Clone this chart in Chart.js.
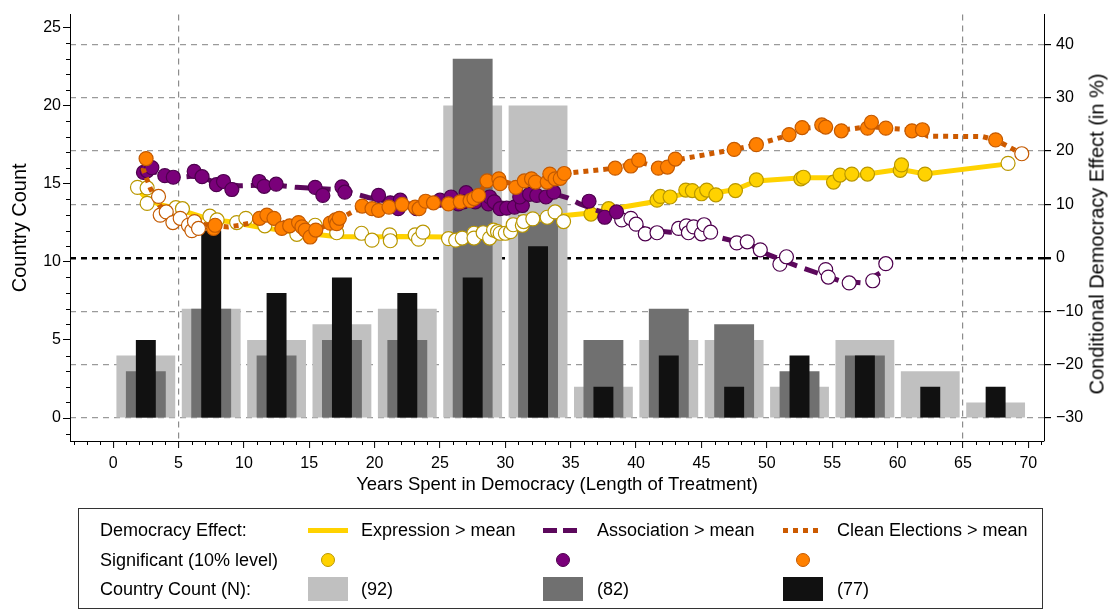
<!DOCTYPE html>
<html><head><meta charset="utf-8">
<script src="https://cdn.jsdelivr.net/npm/chart.js@4"></script>
<style>
html,body{margin:0;padding:0;background:#fff;}
#wrap{position:relative;width:1115px;height:610px;font-family:"Liberation Sans",Arial,sans-serif;color:#000;overflow:hidden;}
#c{position:absolute;left:0;top:0;}
#rtitle{position:absolute;left:1097px;top:234px;transform:translate(-50%,-50%) rotate(-90deg);white-space:nowrap;font-size:20px;}
#legend{position:absolute;left:78px;top:508px;width:965px;height:101px;border:1px solid #333;box-sizing:border-box;}
.t{position:absolute;font-size:18px;white-space:nowrap;line-height:20px;transform:translateY(-50%);}
.sw{position:absolute;}
</style></head>
<body><div id="wrap">
<canvas id="c" width="1115" height="610"></canvas>
<div id="rtitle">Conditional Democracy Effect (in %)</div>
<div id="legend"></div>
<div id="lg"></div>
</div>
<script>
// ---------- data ----------
const binCenters = [2.5,7.5,12.5,17.5,22.5,27.5,32.5,37.5,42.5,47.5,52.5,57.5,62.5,67.5];
const countN92 = [4,7,5,6,7,20,20,2,5,5,2,5,3,1];
const countN82 = [3,7,4,5,5,23,13,5,7,6,3,4,0,0];
const countN77 = [5,12,8,9,8,9,11,2,4,2,4,4,2,2];

const xTickValues = [0,5,10,15,20,25,30,35,40,45,50,55,60,65,70];
const leftTickValues = [0,5,10,15,20,25];
const rightTickValues = [-30,-20,-10,0,10,20,30,40];

const expressionLine = [[1.9,12.8],[2.4,11.5],[3.5,10.0],[4.6,9.4],[5.6,8.6],[7.4,7.2],[8.8,6.8],[11,5.8],[14,4.8],[17,4.0],[19.5,3.9],[22,4.0],[25.5,3.9],[27.5,4.1],[29.6,5.0],[31,6.2],[32.2,7.1],[34,7.8],[36.5,8.4],[38,9.1],[41.6,10.6],[42.6,11.4],[44.3,12.3],[46.1,12.2],[47.6,12.8],[49.2,14.4],[52.7,15.0],[55.4,15.0],[57.7,15.7],[60.2,16.6],[62.1,15.7],[68.45,17.6]];
const expressionSig = [[36.55,8.2],[37.9,9.2],[41.6,10.8],[41.85,11.5],[42.6,11.4],[43.8,12.7],[44.3,12.6],[45.0,12.0],[45.4,12.7],[46.1,11.8],[47.6,12.6],[49.2,14.6],[52.6,14.8],[52.8,15.1],[55.1,14.2],[55.6,15.5],[56.5,15.7],[57.7,15.7],[60.2,16.4],[60.3,17.4],[62.1,15.7]];
const expressionNotSig = [[1.86,13.2],[2.6,13.1],[2.6,10.2],[4.8,9.4],[5.3,9.2],[7.4,7.8],[7.95,7.1],[9.45,6.6],[10.15,7.4],[11.6,6.0],[14.05,4.4],[15.45,6.1],[17.1,4.7],[19.0,4.6],[19.8,3.3],[21.15,4.3],[21.2,3.2],[23.1,4.3],[23.36,3.5],[23.7,4.8],[25.65,3.6],[26.2,3.3],[26.7,3.7],[27.6,4.6],[27.6,3.7],[28.3,4.7],[28.8,3.7],[29.1,5.2],[29.4,4.9],[29.6,4.6],[30.0,4.6],[30.4,4.9],[30.6,6.2],[31.3,6.1],[31.4,6.8],[32.1,7.3],[33.2,7.6],[33.8,8.6],[34.45,6.8],[68.45,17.7]];

const associationLine = [[2.3,16.3],[3,16.2],[4,15.5],[5.3,15.1],[6.5,15.4],[7.9,14.0],[9.6,13.5],[11,13.6],[12.5,13.6],[14,13.2],[15.5,13.0],[17.5,12.7],[19.5,11.3],[21,10.6],[23,10.0],[25,10.5],[27,11.0],[29,10.5],[30.5,10.0],[32,11.0],[33.7,12.0],[34.7,11.3],[35.7,10.1],[37.0,8.9],[38.0,8.0],[39.5,7.0],[40.7,5.3],[42.6,4.8],[44.5,5.2],[45.9,4.1],[47.7,3.0],[48.8,2.4],[50.1,0.6],[52.3,-1.5],[53.8,-2.8],[55.6,-4.3],[57.3,-4.7],[58.7,-2.8],[59.1,-1.1]];
const associationSig = [[2.32,16.0],[2.6,16.3],[2.96,16.9],[3.95,15.4],[4.6,15.1],[6.2,16.2],[6.8,15.2],[7.9,13.7],[8.44,14.3],[9.08,12.8],[11.17,14.3],[11.55,13.4],[12.47,13.8],[15.45,13.2],[16.04,11.7],[17.5,13.3],[17.72,12.3],[20.3,11.7],[21.2,10.3],[21.96,10.8],[21.8,9.2],[23.2,9.2],[25.0,10.8],[25.85,11.4],[26.4,10.1],[27.0,12.2],[26.8,10.5],[27.7,10.5],[28.7,10.1],[28.8,11.4],[29.15,10.5],[29.6,9.2],[30.1,9.3],[30.7,9.5],[31.3,9.8],[31.1,11.4],[31.85,11.9],[32.4,11.7],[33.1,11.4],[33.7,12.3],[36.4,10.6],[37.6,7.6],[38.5,8.6]];
const associationNotSig = [[38.9,7.1],[39.6,7.4],[40.0,6.3],[40.7,4.5],[41.6,4.7],[43.25,5.5],[43.85,6.0],[44.0,4.7],[44.4,5.8],[45.0,4.5],[45.2,6.2],[45.7,4.8],[47.7,2.8],[48.5,3.0],[49.5,1.5],[51.0,-1.2],[51.5,0.2],[54.5,-2.2],[54.7,-3.6],[56.3,-4.7],[58.1,-4.3],[59.1,-1.1]];

const electionsLine = [[2.5,18.6],[2.3,16.6],[2.85,13.0],[3.55,9.8],[4.5,8.0],[6,6.5],[8.8,5.8],[9.7,6.1],[10.4,6.5],[11.5,7.4],[12.5,7.0],[13.5,6.2],[14.8,5.0],[15.5,5.2],[16.8,6.6],[17.3,7.3],[18.3,8.6],[19.2,9.6],[20.5,9.3],[22,9.8],[24,10.2],[26,10.3],[27.7,11.2],[28.6,14.2],[29.5,14.6],[30.8,13.6],[32,14.6],[33.5,15.2],[34.5,15.8],[38.4,16.8],[40.2,18.0],[41.7,16.9],[43,18.3],[47.5,20.3],[49.2,21.2],[51.7,23.0],[52.7,24.2],[54.3,24.6],[55.7,23.9],[57.8,24.6],[59.1,24.3],[61.5,23.9],[62.3,22.8],[66.5,22.7],[67.5,22.1],[69.5,19.5]];
const electionsSig = [[2.52,18.6],[7.68,5.5],[7.8,6.1],[11.2,7.4],[11.76,8.0],[12.3,7.4],[12.9,5.5],[13.5,6.0],[14.18,6.6],[14.44,5.8],[14.69,5.2],[15.07,3.9],[15.5,5.2],[16.6,6.5],[17.0,7.1],[17.1,6.4],[17.3,7.4],[19.05,9.7],[19.8,9.2],[20.3,8.9],[21.1,9.5],[22.1,10.0],[23.1,9.5],[23.4,9.2],[23.9,10.6],[24.5,10.3],[25.65,10.1],[26.55,10.5],[27.3,10.7],[27.6,11.1],[27.95,11.7],[28.6,14.4],[29.5,14.8],[29.6,13.9],[30.8,13.2],[31.45,14.4],[32.0,14.8],[32.3,14.2],[33.2,14.2],[33.4,15.7],[33.8,14.8],[34.2,14.9],[34.5,15.8],[38.4,16.8],[39.6,17.2],[40.2,18.3],[41.7,16.8],[42.4,17.0],[43.0,18.5],[47.5,20.3],[49.2,21.2],[51.7,23.1],[52.7,24.4],[54.2,24.9],[54.5,24.5],[55.7,23.8],[57.7,24.3],[58.0,25.4],[59.1,24.3],[61.1,23.8],[61.9,24.0],[67.5,22.1]];
const electionsNotSig = [[3.47,11.5],[3.6,8.0],[4.06,8.6],[4.57,6.6],[5.13,7.4],[5.76,6.1],[6.02,5.1],[6.22,6.8],[6.53,5.5],[69.5,19.5]];

// ---------- styles ----------
const C = {
  light:'#c0c0c0', mid:'#707070', dark:'#111111',
  yLine:'#ffd200', yFill:'#ffd200', yEdge:'#b99700',
  pLine:'#5c085c', pFill:'#7a007a', pEdge:'#4e004e',
  oLine:'#cc5a00', oFill:'#ff8000', oEdge:'#c45a00'
};
const FONT = "'Liberation Sans', Arial, sans-serif";
Chart.defaults.font.family = FONT;
Chart.defaults.color = '#000';

const pts = a => a.map(p => ({x:p[0], y:p[1]}));
const bars = v => binCenters.map((x,i) => ({x, y:v[i]}));

function lineDS(data, color, dash, order){
  return {type:'line', data:pts(data), yAxisID:'yR', borderColor:color, borderWidth:5,
    borderDash:dash, borderCapStyle:'butt', pointRadius:0, fill:false, tension:0, order};
}
function markDS(data, fill, edge, order){
  return {type:'scatter', data:pts(data), yAxisID:'yR', showLine:false,
    pointRadius:7, pointBackgroundColor:fill, pointBorderColor:edge, pointBorderWidth:1.2, order};
}
function barDS(vals, color, pct, order){
  return {type:'bar', data:bars(vals), yAxisID:'yL', backgroundColor:color, borderWidth:0,
    grouped:false, categoryPercentage:1, barPercentage:pct, order};
}

const minorTicks = {
  id:'minorTicks',
  afterDraw(chart){
    const ctx = chart.ctx, x = chart.scales.x, yl = chart.scales.yL;
    ctx.save(); ctx.strokeStyle='#000'; ctx.lineWidth=1;
    for (let v = Math.ceil(x.min); v <= x.max; v++){
      if (v % 5 === 0) continue;
      const px = Math.round(x.getPixelForValue(v)) + 0.5;
      ctx.beginPath(); ctx.moveTo(px, x.top); ctx.lineTo(px, x.top + 4); ctx.stroke();
    }
    for (let v = Math.ceil(yl.min); v <= yl.max; v++){
      if (v % 5 === 0) continue;
      const py = Math.round(yl.getPixelForValue(v)) + 0.5;
      ctx.beginPath(); ctx.moveTo(yl.right - 4, py); ctx.lineTo(yl.right, py); ctx.stroke();
    }
    ctx.restore();
  }
};

const fixTicks = vals => scale => { scale.ticks = vals.map(v => ({value:v})); };
const minus = v => v < 0 ? '\u2212' + Math.abs(v) : String(v);

new Chart(document.getElementById('c'), {
  type:'line',
  data:{datasets:[
    barDS(countN92, C.light, 0.90, 100),
    barDS(countN82, C.mid, 0.61, 99),
    barDS(countN77, C.dark, 0.305, 98),
    lineDS(expressionLine, C.yLine, [], 32),
    markDS(expressionNotSig, '#ffffff', C.yEdge, 31),
    markDS(expressionSig, C.yFill, C.yEdge, 30),
    lineDS(associationLine, C.pLine, [14,8], 22),
    markDS(associationNotSig, '#ffffff', C.pEdge, 21),
    markDS(associationSig, C.pFill, C.pEdge, 20),
    lineDS(electionsLine, C.oLine, [5,5], 12),
    markDS(electionsNotSig, '#ffffff', C.oEdge, 11),
    markDS(electionsSig, C.oFill, C.oEdge, 10)
  ]},
  options:{
    responsive:false, animation:false, devicePixelRatio:1,
    layout:{padding:{left:0,right:0,top:8,bottom:114}},
    plugins:{legend:{display:false}, tooltip:{enabled:false}},
    events:[],
    scales:{
      x:{type:'linear', position:'bottom', min:-3.3, max:71.2, offset:false,
        afterBuildTicks:fixTicks(xTickValues),
        afterFit:s=>{s.height=55;},
        ticks:{font:{size:16}, padding:6, maxRotation:0, autoSkip:false, callback:v=>minus(v)},
        grid:{offset:false, drawOnChartArea:true, drawTicks:true, tickLength:7, tickColor:'#000', tickWidth:1,
          color:c => (c.tick && (c.tick.value===5 || c.tick.value===65)) ? '#8c8c8c' : 'rgba(0,0,0,0)', lineWidth:1.2},
        border:{display:true, color:'#000', width:1, dash:[6,5]},
        title:{display:true, text:'Years Spent in Democracy (Length of Treatment)', font:{size:18.5}, padding:{top:0,bottom:0}}
      },
      yL:{type:'linear', position:'left', min:-1.468, max:25.82,
        afterBuildTicks:fixTicks(leftTickValues),
        afterFit:s=>{s.width=70;},
        ticks:{font:{size:16}, padding:2},
        grid:{drawOnChartArea:false, drawTicks:true, tickLength:7, tickColor:'#000'},
        border:{display:true, color:'#000', width:1},
        title:{display:true, text:'Country Count', font:{size:20}, padding:{top:8,bottom:0}}
      },
      yR:{type:'linear', position:'right', min:-34.32, max:45.57,
        afterBuildTicks:fixTicks(rightTickValues),
        afterFit:s=>{s.width=71;},
        ticks:{font:{size:16}, padding:5, callback:v=>minus(v)},
        grid:{drawOnChartArea:true, drawTicks:true, tickLength:7, tickColor:'#000',
          color:c => (c.tick && c.tick.value===0) ? '#000' : '#9a9a9a',
          lineWidth:c => (c.tick && c.tick.value===0) ? 2.4 : 1.2},
        border:{display:true, color:'#000', width:1, dash:[6,5]}
      }
    }
  },
  plugins:[minorTicks]
});

// ---------- legend (HTML) ----------
const lg = document.getElementById('lg');
function add(html){ lg.insertAdjacentHTML('beforeend', html); }
function text(s, x, y){ add(`<div class="t" style="left:${x}px;top:${y}px">${s}</div>`); }
function sw(x, y, w, h, css){ add(`<div class="sw" style="left:${x}px;top:${y}px;width:${w}px;height:${h}px;${css}"></div>`); }
const rows = [530, 560, 589];
const cols = [308, 543, 783];
const txtX = [361, 597, 837];
text('Democracy Effect:', 100, rows[0]);
text('Significant (10% level)', 100, rows[1]);
text('Country Count (N):', 100, rows[2]);
sw(cols[0], rows[0]-2.5, 40, 5, `background:${C.yLine}`);
sw(cols[1], rows[0]-2.5, 40, 5, `background:repeating-linear-gradient(90deg, ${C.pLine} 0 14px, transparent 14px 20px)`);
sw(cols[2], rows[0]-2.5, 40, 5, `background:repeating-linear-gradient(90deg, ${C.oLine} 0 5px, transparent 5px 10px)`);
text('Expression &gt; mean', txtX[0], rows[0]);
text('Association &gt; mean', txtX[1], rows[0]);
text('Clean Elections &gt; mean', txtX[2], rows[0]);
const mk = [[C.yFill,C.yEdge],[C.pFill,C.pEdge],[C.oFill,C.oEdge]];
mk.forEach((m,i) => sw(cols[i]+20-7, rows[1]-7, 14, 14, `box-sizing:border-box;border-radius:50%;background:${m[0]};border:1.2px solid ${m[1]}`));
[C.light, C.mid, C.dark].forEach((c,i) => sw(cols[i], rows[2]-12, 40, 24, `background:${c}`));
['(92)','(82)','(77)'].forEach((s,i) => text(s, txtX[i], rows[2]));
</script>
</body></html>
